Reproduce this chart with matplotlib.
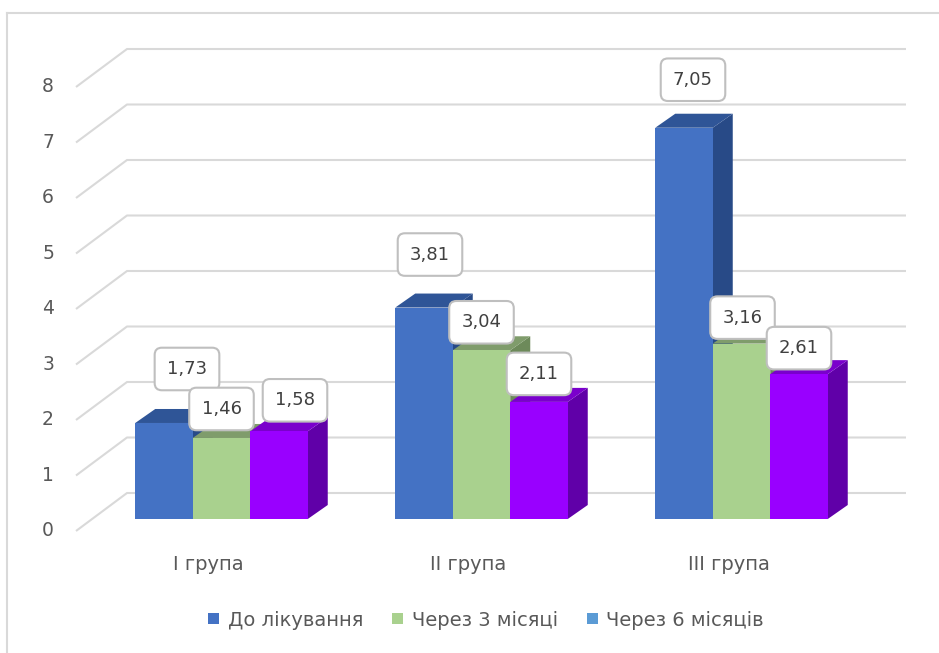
import matplotlib
matplotlib.use("Agg")
import matplotlib.pyplot as plt
from matplotlib.patches import Polygon, Patch
from matplotlib.lines import Line2D

plt.rcParams["font.family"] = ["DejaVu Sans"]

# ---- data ----
groups = ["I група", "II група", "III група"]
series_names = ["До лікування", "Через 3 місяці", "Через 6 місяців"]
before = [1.73, 3.81, 7.05]
after_3m = [1.46, 3.04, 3.16]
after_6m = [1.58, 2.11, 2.61]
y_ticks = [0, 1, 2, 3, 4, 5, 6, 7, 8]

# ---- styling ----
W, H = 939, 653
front_cols = ["#4472c4", "#a9d18e", "#9900ff"]
top_cols = ["#2f5597", "#7f9c6b", "#7a00cc"]
side_cols = ["#284a87", "#6d8a5a", "#6000a8"]
legend_cols = ["#4472c4", "#a9d18e", "#5b9bd5"]
grid_col = "#d9d9d9"
text_col = "#595959"
label_col = "#404040"
FS_VAL = 13
FS_AXIS = 13.5
FS_CAT = 14
FS_LEG = 14

# pixel scale of the plotting space
GROUP_PX = 260.0      # px between group centres
UNIT_PX = 55.5        # px per value unit
X0_PX, Y0_PX = 221.5, 519.0   # first group centre / bar baseline

fig = plt.figure(figsize=(W / 100, H / 100), dpi=100)
ax = fig.add_axes([0, 0, 1, 1])
ax.set_xlim(-X0_PX / GROUP_PX, (W - X0_PX) / GROUP_PX)
ax.set_ylim((Y0_PX - H) / UNIT_PX, Y0_PX / UNIT_PX)
ax.axis("off")

px = lambda p: p / GROUP_PX   # horizontal px -> data
py = lambda p: p / UNIT_PX    # vertical px -> data

# chart frame
fig.add_artist(Line2D([7 / W, 1.0], [1 - 13 / H, 1 - 13 / H], color=grid_col, lw=1.5))
fig.add_artist(Line2D([7 / W, 7 / W], [1 - 13 / H, 0], color=grid_col, lw=1.5))

# back wall gridlines and floor/side diagonals
back_left = px(127 - X0_PX)
back_right = px(906 - X0_PX)
front_x = px(76 - X0_PX)
wall_up = py(26)
front_down = py(12)
for t in y_ticks:
    ax.plot([front_x, back_left, back_right],
            [t - front_down, t + wall_up, t + wall_up],
            color=grid_col, lw=1.5, solid_capstyle="butt", zorder=1)
    ax.text(px(48 - X0_PX), t - front_down, str(t), ha="center", va="center",
            fontsize=FS_AXIS, color=text_col)

# 3D bars
bw = px(57.5)
ddx, ddy = px(20), py(14)
series = [before, after_3m, after_6m]
label_offsets = [
    [(23, 54), (6, 53), (9, 48)],
    [(0, 29), (0, 28), (1, 26)],
    [(16, 31), (0, 28), (0, 26)],
]
z = 2
for g in range(len(groups)):
    for s, vals in enumerate(series):
        v = vals[g]
        x0 = g + (s - 1) * bw - bw / 2
        x1 = x0 + bw
        front = Polygon([(x0, 0), (x1, 0), (x1, v), (x0, v)], closed=True,
                        fc=front_cols[s], ec="none", zorder=z)
        top = Polygon([(x0, v), (x1, v), (x1 + ddx, v + ddy), (x0 + ddx, v + ddy)],
                      closed=True, fc=top_cols[s], ec="none", zorder=z)
        side = Polygon([(x1, 0), (x1 + ddx, ddy), (x1 + ddx, v + ddy), (x1, v)],
                       closed=True, fc=side_cols[s], ec="none", zorder=z)
        for p in (side, top, front):
            ax.add_patch(p)
        z += 1

# value labels
for g in range(len(groups)):
    for s, vals in enumerate(series):
        v = vals[g]
        cx = g + (s - 1) * bw
        ox, oy = label_offsets[s][g]
        ax.text(cx + px(ox), v + py(oy), f"{v:.2f}".replace(".", ","),
                ha="center", va="center", fontsize=FS_VAL, color=label_col, zorder=50,
                bbox=dict(boxstyle="round,pad=0.68,rounding_size=0.4",
                          fc="white", ec="#bfbfbf", lw=1.5))

# category labels
for g, name in enumerate(groups):
    ax.text(g - px(13), -py(564 - Y0_PX), name,
            ha="center", va="center", fontsize=FS_CAT, color=text_col)

# legend
handles = [Patch(fc=c, ec="none") for c in legend_cols]
fig.legend(handles, series_names, loc="center", ncol=3,
           bbox_to_anchor=(486 / W, 1 - 620 / H), frameon=False,
           fontsize=FS_LEG, labelcolor=text_col, handlelength=0.55, handleheight=0.55,
           handletextpad=0.45, columnspacing=1.5)

fig.savefig("out.png", dpi=100)
